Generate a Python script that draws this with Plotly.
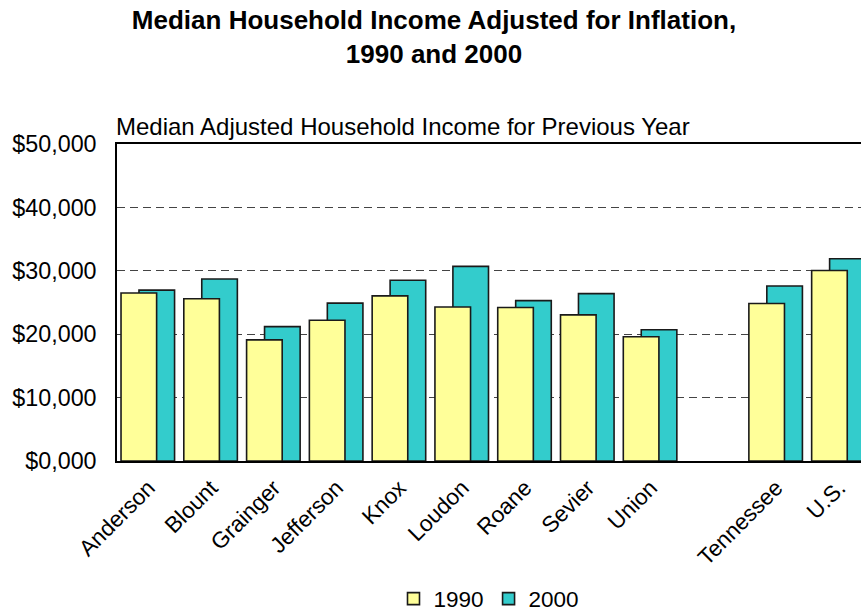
import plotly.graph_objects as go

categories = ["Anderson", "Blount", "Grainger", "Jefferson", "Knox", "Loudon",
              "Roane", "Sevier", "Union", " ", "Tennessee", "U.S."]
income_1990 = [26500, 25600, 19100, 22200, 26050, 24300, 24200, 23050, 19600, None, 24850, 30050]
income_2000 = [26950, 28700, 21200, 24900, 28500, 30700, 25300, 26400, 20700, None, 27600, 31900]
y_ticks = [0, 10000, 20000, 30000, 40000, 50000]
y_tick_labels = ["$0,000", "$10,000", "$20,000", "$30,000", "$40,000", "$50,000"]

FONT = "Liberation Sans, Arial, sans-serif"

fig = go.Figure()
fig.add_trace(go.Bar(
    x=categories, y=income_2000, name="2000",
    marker=dict(color="#33CCCC", line=dict(color="#1a1a1a", width=1.6)),
    width=0.567, offset=-0.15, legendrank=2,
))
fig.add_trace(go.Bar(
    x=categories, y=income_1990, name="1990",
    marker=dict(color="#FFFF99", line=dict(color="#1a1a1a", width=1.6)),
    width=0.567, offset=-0.436, legendrank=1,
))

fig.update_layout(
    width=861, height=612,
    barmode="overlay",
    paper_bgcolor="white", plot_bgcolor="white",
    font=dict(family=FONT, size=23, color="black"),
    margin=dict(l=117, r=0, t=144, b=151),
    title=dict(
        text="<b>Median Household Income Adjusted for Inflation,<br>1990 and 2000</b>",
        font=dict(family=FONT, size=26, color="black"),
        x=434/861, xanchor="center", xref="container",
        y=1 - 29/612, yanchor="top", yref="container",
    ),
    legend=dict(
        orientation="h", x=489/861, xanchor="center", xref="container",
        y=1 - 599/612, yanchor="middle", yref="container",
        font=dict(size=22.5), itemwidth=30, tracegroupgap=0,
        traceorder="normal",
    ),
    showlegend=True,
    annotations=[dict(
        text="Median Adjusted Household Income for Previous Year",
        xref="paper", yref="paper", x=0, y=1, xanchor="left", yanchor="bottom",
        showarrow=False, font=dict(size=24), xshift=-3, yshift=2,
    )],
)
fig.update_xaxes(
    type="category", categoryorder="array", categoryarray=categories,
    range=[-0.5, 11.35], tickangle=-45, showline=True, linecolor="black",
    linewidth=1.5, mirror=True, ticks="", showgrid=False, tickfont=dict(size=22.5),
    ticklabelstandoff=3,
)
fig.update_yaxes(
    range=[0, 50000], tickvals=y_ticks, ticktext=y_tick_labels,
    showgrid=True, gridcolor="#444444", griddash="8px,5px", gridwidth=1,
    showline=True, linecolor="black", linewidth=1.5, ticks="",
    zeroline=False, ticklabelstandoff=14, tickfont=dict(size=23.3),
)

fig.write_html("out.html", config={"displayModeBar": False},
               post_script="document.body.style.margin='0';")
